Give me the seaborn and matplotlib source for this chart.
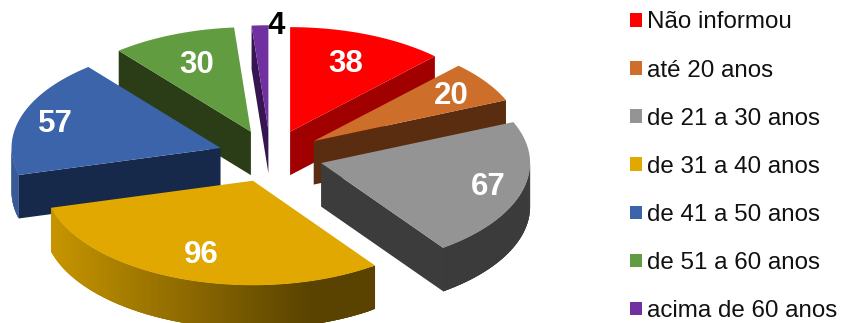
import numpy as np
import pandas as pd
import seaborn as sns
import matplotlib
matplotlib.use("Agg")
import matplotlib.pyplot as plt
from matplotlib.colors import to_rgb
from matplotlib.patches import Patch, Polygon

# Respondents per age band
categories = ["Não informou", "até 20 anos", "de 21 a 30 anos", "de 31 a 40 anos",
              "de 41 a 50 anos", "de 51 a 60 anos", "acima de 60 anos"]
counts = [38, 20, 67, 96, 57, 30, 4]

top_colors = ["#FF0000", "#CE6E2B", "#949494", "#E0A800", "#3C64AA", "#629C40", "#7030A0"]
wall_colors = ["#A00000", "#5A2D10", "#3C3C3C", "#5F4700", "#17294A", "#2A3D16", "#361550"]
label_colors = ["white"] * 6 + ["black"]
label_radius = [0.71, 0.80, 0.83, 0.73, 0.83, 0.70, 1.00]
label_nudge_x = [0, 0, 0, 0, 0, 0, 16]
label_nudge_y = [1, 2, 1, 2, 3, 1, 1]
draw_order = [6, 5, 0, 1, 4, 2, 3]

# Projection of the tilted, exploded pie onto the canvas (pixels)
CX, CY = 270.5, 156.0
RX, RY = 209.0, 104.5
EXPLODE = 52.5
DEPTH = 43.5

sns.set_theme(style="white", font="Liberation Sans")

df = pd.DataFrame({"faixa": categories, "n": counts})
df["fim"] = df["n"].cumsum() / df["n"].sum() * 2 * np.pi
df["inicio"] = df["fim"] - df["n"] / df["n"].sum() * 2 * np.pi
df["meio"] = (df["inicio"] + df["fim"]) / 2
palette = sns.color_palette(top_colors)

fig = plt.figure(figsize=(8.45, 3.23), dpi=100)
ax = fig.add_axes([0, 0, 1, 1])
ax.set_xlim(0, 845)
ax.set_ylim(323, 0)
ax.set_axis_off()


def rim_point(apex, angle):
    return apex[0] + RX * np.sin(angle), apex[1] - RY * np.cos(angle)


def rim_shade(x):
    # Light falls from the left, so the curved side darkens towards the right
    return np.interp(x, [50, 310], [0.89, 0.40])


for layer, i in enumerate(draw_order):
    row = df.iloc[i]
    a0, a1, mid = row["inicio"], row["fim"], row["meio"]
    apex = (CX + EXPLODE * np.sin(mid), CY - EXPLODE / 2 * np.cos(mid))
    z = 2 + layer

    # Flat cut faces: only those turned towards the viewer
    for edge, visible in ((a0, np.sin(a0) < 0), (a1, np.sin(a1) > 0)):
        if visible:
            px, py = rim_point(apex, edge)
            ax.add_patch(Polygon([apex, (px, py), (px, py + DEPTH), (apex[0], apex[1] + DEPTH)],
                                 closed=True, fc=wall_colors[i], ec="none", zorder=z))

    # Curved outer side on the half facing the viewer; strips overlap to avoid seams
    lo, hi = max(a0, np.pi / 2), min(a1, 3 * np.pi / 2)
    if hi > lo:
        steps = np.linspace(lo, hi, 121)
        base = np.array(to_rgb(top_colors[i]))
        for k in range(len(steps) - 1):
            end = min(k + 3, len(steps) - 1)
            upper = [rim_point(apex, t) for t in steps[k:end + 1]]
            lower = [(x, y + DEPTH) for x, y in reversed(upper)]
            col = tuple(base * rim_shade(upper[0][0]))
            ax.add_patch(Polygon(upper + lower, closed=True, fc=col, ec="none", zorder=z))

    # Top face
    arc = np.linspace(a0, a1, 120)
    outline = [apex] + [rim_point(apex, t) for t in arc]
    ax.add_patch(Polygon(outline, closed=True, fc=palette[i], ec="none", zorder=z + 0.5))

    # Value label
    lx = apex[0] + label_radius[i] * RX * np.sin(mid) + label_nudge_x[i]
    ly = apex[1] - label_radius[i] * RY * np.cos(mid) + label_nudge_y[i]
    ax.text(lx, ly, str(int(row["n"])), color=label_colors[i], fontsize=22.5, fontweight="bold",
            ha="center", va="center", zorder=20)

handles = [Patch(fc=c, ec="none") for c in palette]
ax.legend(handles, categories, loc="upper left", bbox_to_anchor=(630 / 845, 1 - 11.5 / 323),
          frameon=False, fontsize=17.4, handlelength=0.48, handleheight=0.48,
          handletextpad=0.21, labelspacing=1.08, borderpad=0, borderaxespad=0,
          labelcolor="#111111")

fig.savefig("out.png", dpi=100)
